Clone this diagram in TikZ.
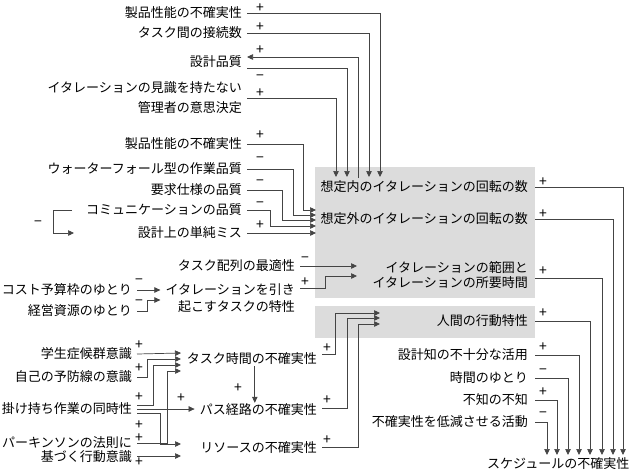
\documentclass[tikz,border=0pt]{standalone}
\usepackage{fontspec}
\setmainfont{Noto Sans CJK JP}
\usetikzlibrary{arrows.meta, positioning}
\definecolor{panelgray}{HTML}{DCDCDC}
\definecolor{wiregray}{HTML}{444444}

\begin{document}
\begin{tikzpicture}[x=1pt, y=-1pt, font=\fontsize{13}{16}\selectfont,
  lbl/.style={anchor=east, inner xsep=5pt, inner ysep=1pt},
  blbl/.style={anchor=east, inner xsep=7pt, inner ysep=1pt},
  sgn/.style={font=\fontsize{14}{14}\selectfont, inner sep=0pt,
              text height=9pt, text depth=0pt},
  wire/.style={draw=wiregray, line width=0.7pt},
  arr/.style={wire, -{Triangle[length=6pt, width=5.5pt]}}
]
\useasboundingbox (0,0) rectangle (631,472);

% ---- shaded panels ------------------------------------------------------
\fill[panelgray] (315,167) rectangle (535,298);
\fill[panelgray] (315,306) rectangle (535,338);

% ---- top inputs ---------------------------------------------------------
\node[lbl] (perfA) at (247,13) {製品性能の不確実性};
\node[lbl] (links) at (247,33) {タスク間の接続数};
\node[lbl] (dq)    at (247,62) {設計品質};
\node[lbl, align=right] (mgr) at (247,98) {イタレーションの見識を持たない\\[4pt]管理者の意思決定};

% ---- left inputs --------------------------------------------------------
\node[lbl] (perfB) at (247,144) {製品性能の不確実性};
\node[lbl] (wf)    at (247,169) {ウォーターフォール型の作業品質};
\node[lbl] (req)   at (247,190) {要求仕様の品質};
\node[lbl] (comm)  at (247,210) {コミュニケーションの品質};
\node[lbl] (slip)  at (247,233) {設計上の単純ミス};

% ---- panel texts --------------------------------------------------------
\node[blbl] (inner) at (535,187) {想定内のイタレーションの回転の数};
\node[blbl] (outer) at (535,219) {想定外のイタレーションの回転の数};
\node[blbl, align=right] (rng) at (535,275) {イタレーションの範囲と\\[-1pt]イタレーションの所要時間};
\node[blbl] (human) at (535,321) {人間の行動特性};

% ---- middle -------------------------------------------------------------
\node[lbl] (seq)  at (300,266) {タスク配列の最適性};
\node[lbl, align=right] (trig) at (300,298) {イタレーションを引き\\[1pt]起こすタスクの特性};
\node[lbl] (cost) at (137,290) {コスト予算枠のゆとり};
\node[lbl] (mgmt) at (137,311) {経営資源のゆとり};

% ---- lower left ---------------------------------------------------------
\node[lbl] (stud)  at (137,354) {学生症候群意識};
\node[lbl] (self)  at (137,377) {自己の予防線の意識};
\node[lbl] (multi) at (137,409) {掛け持ち作業の同時性};
\node[lbl, align=right] (park) at (137,450) {パーキンソンの法則に\\[-2pt]基づく行動意識};
\node[lbl] (tt)   at (322,359) {タスク時間の不確実性};
\node[lbl] (path) at (322,410) {パス経路の不確実性};
\node[lbl] (res)  at (322,448) {リソースの不確実性};

% ---- lower right --------------------------------------------------------
\node[blbl] (know)  at (535,355) {設計知の不十分な活用};
\node[blbl] (slack) at (535,378) {時間のゆとり};
\node[blbl] (unk)   at (535,400) {不知の不知};
\node[blbl] (act)   at (535,422) {不確実性を低減させる活動};
\node[anchor=west, inner sep=0pt] (sched) at (487,464) {スケジュールの不確実性};

% ---- arrow ends ---------------------------------------------------------
\foreach \k/\x in {1/336, 2/347, 3/369, 4/380}
  \coordinate (top\k) at (\x,177);
\coordinate (fb) at (358,178);
\foreach \k/\y in {1/210, 2/215, 3/220, 4/226, 5/233}
  \coordinate (side\k) at (316,\y);
\coordinate (loopout) at (72,210);
\coordinate (loopin)  at (74,233);
\coordinate (rA) at (357,266);
\coordinate (rB) at (357,276);
\foreach \k/\y in {1/313, 2/318, 3/324}
  \coordinate (hum\k) at (380,\y);
\foreach \k/\y in {1/353, 2/359, 3/365, 4/371}
  \coordinate (tin\k) at (181,\y);
\coordinate (resA) at (181,444);
\coordinate (resB) at (181,456);

% ---- connectors: top ----------------------------------------------------
\draw[arr] (perfA.east) -| (top4);
\draw[arr] (links.east) -| (top3);
\draw[arr] (fb) |- ([yshift=5pt]dq.east);
\draw[arr] ([yshift=-6pt]dq.east) -| (top2);
\draw[arr] (mgr.east) -| (top1);

% ---- connectors: left ---------------------------------------------------
\draw[arr] (perfB.east) -- ++(56,0) |- (side1);
\draw[arr] (wf.east) -- ++(46,0) |- (side2);
\draw[arr] (req.east) -- ++(35,0) |- (side3);
\draw[arr] (comm.east) -- ++(23,0) |- (side4);
\draw[arr] (slip.east) -- (side5);
\draw[arr] (loopout) -- (53,210) |- (loopin);

% ---- connectors: middle -------------------------------------------------
\draw[arr] (seq.east) -- (rA);
\draw[arr] ([yshift=10pt]trig.east) -- ++(25,0) |- (rB);
\draw[arr] (cost.east) -- (cost.east -| trig.west);
\draw[arr] (mgmt.east) -- ++(10,0) |- ([yshift=-2pt]trig.west);

% ---- connectors: lower left ---------------------------------------------
\draw[arr] (stud.east) -- (tin1);
\draw[arr] (self.east) -- ++(10,0) |- (tin2);
\draw[arr] ([yshift=4pt]multi.east) -- ++(16,0) |- (tin3);
\draw[arr] ([yshift=-4pt]multi.east) -- ++(23,0) |- (resA);
\draw[arr] (multi.east) -- (multi.east -| path.west);
\draw[arr] ([yshift=7pt]park.east) -- ++(30,0) |- (tin4);
\draw[arr] ([yshift=-6pt]park.east) -- (resB);
\draw[arr] ([xshift=3pt]tt.south) -- ([xshift=3pt]tt.south |- path.north);
\draw[arr] ([yshift=5pt]tt.east) -- ++(13,0) |- (hum1);
\draw[arr] ([yshift=2pt]path.east) -- ++(25,0) |- (hum2);
\draw[arr] ([yshift=1pt]res.east) -- ++(36,0) |- (hum3);

% ---- connectors: to schedule --------------------------------------------
\foreach \src/\x in {act/547, unk/557, slack/568, know/579, human/590}
  \draw[arr] (\src.east) -| (\x,455);
\draw[arr] ([yshift=-3pt]rng.east) -| (602,455);
\draw[arr] (outer.east) -| (613,455);
\draw[arr] (inner.east) -| (623,455);

% ---- polarity signs -----------------------------------------------------
\foreach \y/\s [count=\k] in {8/+, 27/+, 50/+, 76/−, 93/+, 135/+, 158/−, 181/−, 203/−, 225/+}
  \node[sgn] (sl\k) at (260,\y) {\s};
\foreach \y/\s [count=\k] in {182/+, 214/+, 271/+, 313/+, 347/+, 370/−, 392/+, 413/−}
  \node[sgn] (sr\k) at (543,\y) {\s};
\foreach \y/\s [count=\k] in {280/−, 301/−, 345/+, 368/+, 397/+, 425/+, 438/+, 462/+}
  \node[sgn] (sm\k) at (139,\y) {\s};
\foreach \y/\s [count=\k] in {258/−, 282/+}
  \node[sgn] (sn\k) at (305,\y) {\s};
\foreach \y [count=\k] in {348, 400, 440}
  \node[sgn] (sp\k) at (327,\y) {+};
\node[sgn] (lp) at (38,222) {−};
\node[sgn] (tp) at (238,388) {+};
\node[sgn] (vp) at (181,398) {+};
\end{tikzpicture}
\end{document}
